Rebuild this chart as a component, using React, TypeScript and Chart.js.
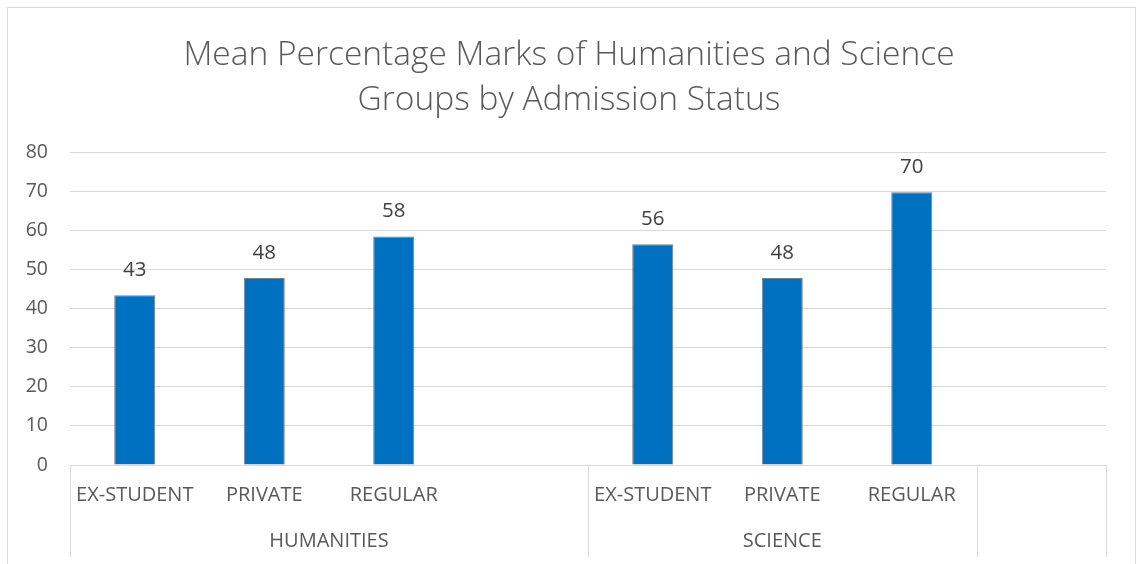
import React, { useEffect, useRef } from "react";
import { Chart, registerables } from "chart.js";

Chart.register(...registerables);

const titleLines = ["Mean Percentage Marks of Humanities and Science", "Groups by Admission Status"];
const categories = ["EX-STUDENT", "PRIVATE", "REGULAR", "", "EX-STUDENT", "PRIVATE", "REGULAR", ""];
const groupNames = ["HUMANITIES", "SCIENCE", ""];
const groupSizes = [4, 3, 1];
const meanMarks = [43.4, 47.8, 58.4, null, 56.4, 47.8, 69.7, null];
const yMin = 0;
const yMax = 80;
const yStep = 10;

const FONT = "'Open Sans', 'DejaVu Sans', sans-serif";
const TEXT = "#595959";
const GRID = "#d9d9d9";

const frame = {
  id: "frame",
  beforeDraw(chart: any) {
    const ctx = chart.ctx;
    ctx.save();
    ctx.strokeStyle = GRID;
    ctx.lineWidth = 1;
    ctx.strokeRect(7.5, 7.5, 1128, 700);
    ctx.restore();
  },
};

const groupAxis = {
  id: "groupAxis",
  afterDraw(chart: any) {
    const ctx = chart.ctx;
    const x = chart.scales.x;
    const half = (x.getPixelForValue(1) - x.getPixelForValue(0)) / 2;
    const top = chart.chartArea.bottom;
    const bottom = 557;
    ctx.save();
    ctx.strokeStyle = GRID;
    ctx.lineWidth = 1;
    ctx.fillStyle = TEXT;
    ctx.font = `20px ${FONT}`;
    ctx.textAlign = "center";
    ctx.textBaseline = "middle";
    let start = 0;
    const drawSep = (px: number) => {
      const p = Math.round(px) + 0.5;
      ctx.beginPath();
      ctx.moveTo(p, top);
      ctx.lineTo(p, bottom);
      ctx.stroke();
    };
    drawSep(x.getPixelForValue(0) - half);
    groupSizes.forEach((n, gi) => {
      const a = x.getPixelForValue(start) - half;
      const b = x.getPixelForValue(start + n - 1) + half;
      drawSep(b);
      if (groupNames[gi]) ctx.fillText(groupNames[gi], (a + b) / 2, 541);
      start += n;
    });
    ctx.restore();
  },
};

const barLabels = {
  id: "barLabels",
  afterDatasetsDraw(chart: any) {
    const ctx = chart.ctx;
    const meta = chart.getDatasetMeta(0);
    ctx.save();
    ctx.fillStyle = "#404040";
    ctx.font = `20.5px ${FONT}`;
    ctx.textAlign = "center";
    ctx.textBaseline = "middle";
    meta.data.forEach((bar: any, i: number) => {
      const v = meanMarks[i];
      if (v == null) return;
      ctx.fillText(String(Math.round(v)), bar.x, bar.y - 25);
    });
    ctx.restore();
  },
};

export default function App() {
  const ref = useRef<HTMLCanvasElement>(null);
  useEffect(() => {
    if (!ref.current) return;
    const chart = new Chart(ref.current, {
      type: "bar",
      data: {
        labels: categories,
        datasets: [
          {
            label: "Mean Percentage",
            data: meanMarks,
            backgroundColor: "#0070C0",
            borderColor: "#7f7f7f",
            borderWidth: 1,
            categoryPercentage: 1,
            barPercentage: 0.317,
          },
        ],
      },
      options: {
        animation: false,
        responsive: true,
        maintainAspectRatio: false,
        layout: { padding: 0 },
        plugins: {
          legend: { display: false },
          tooltip: { enabled: false },
          title: {
            display: true,
            text: titleLines,
            color: TEXT,
            font: { family: FONT, size: 33.5, weight: "300", lineHeight: 45 / 33.5 },
            padding: { top: 32.5, bottom: 29.5 },
          },
        },
        scales: {
          x: {
            grid: { display: false, drawTicks: false },
            border: { display: true, color: GRID, width: 1 },
            ticks: {
              color: TEXT,
              font: { family: FONT, size: 20 },
              padding: 18,
              autoSkip: false,
              maxRotation: 0,
            },
            afterFit(scale: any) {
              scale.height = 99;
            },
          },
          y: {
            min: yMin,
            max: yMax,
            grid: { color: GRID, drawTicks: false },
            border: { display: false },
            ticks: {
              stepSize: yStep,
              color: TEXT,
              font: { family: FONT, size: 19.5 },
              padding: 22,
            },
            afterFit(scale: any) {
              scale.width = 70;
            },
          },
          yRight: {
            position: "right",
            min: yMin,
            max: yMax,
            grid: { display: false, drawTicks: false },
            border: { display: false },
            ticks: { display: false },
            afterFit(scale: any) {
              scale.width = 32;
            },
          },
        },
      },
      plugins: [frame, groupAxis, barLabels],
    });
    return () => chart.destroy();
  }, []);
  return (
    <div style={{ position: "fixed", left: 0, top: 0, width: 1138, height: 564, background: "#fff" }}>
      <canvas ref={ref} />
    </div>
  );
}
